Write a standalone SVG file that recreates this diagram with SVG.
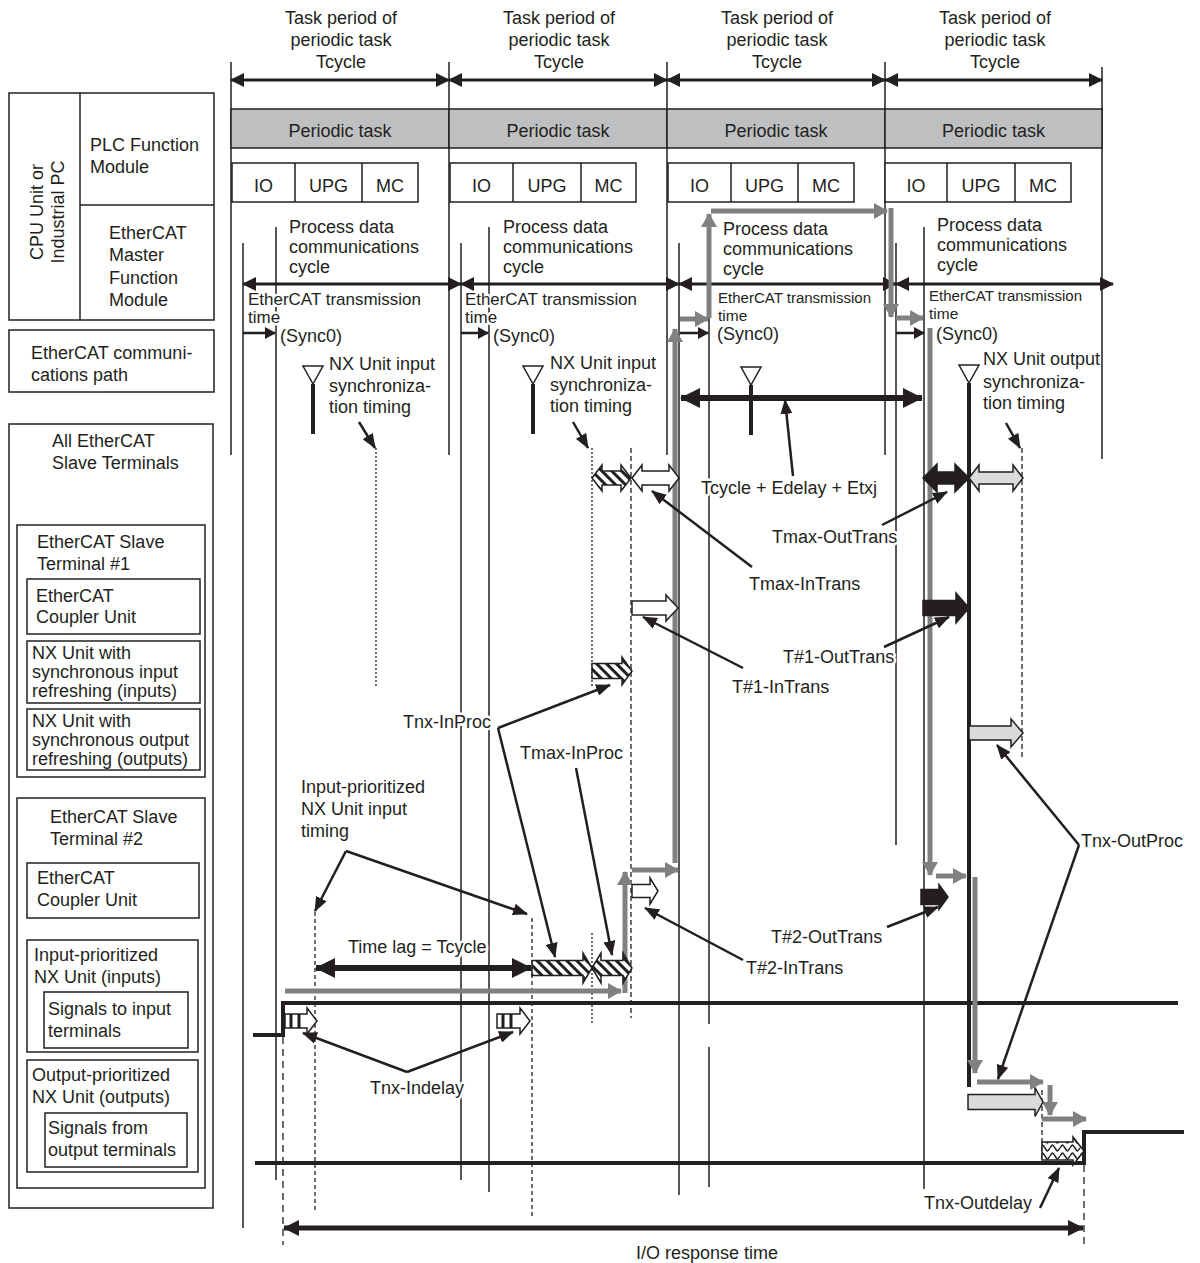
<svg xmlns="http://www.w3.org/2000/svg" width="1200" height="1263" viewBox="0 0 1200 1263">
<defs>
<style>
text{font-family:"Liberation Sans",Arial,sans-serif;font-size:18px;fill:#231f20}
.h{paint-order:stroke;stroke:#fff;stroke-width:5px;stroke-linejoin:round}
.c{text-anchor:middle}
.box{fill:#fff;stroke:#231f20;stroke-width:1.5}
.bar{fill:#bebfc1;stroke:#231f20;stroke-width:1.5}
.ln{fill:none;stroke:#231f20;stroke-width:1.5}
.thk{fill:none;stroke:#231f20;stroke-width:4}
.dot{fill:none;stroke:#231f20;stroke-width:1.3;stroke-dasharray:2 2}
.dash{fill:none;stroke:#231f20;stroke-width:1.3;stroke-dasharray:5 3}
.arr{fill:none;stroke:#231f20;stroke-width:3;marker-start:url(#ah);marker-end:url(#ah)}
.sa{fill:none;stroke:#231f20;stroke-width:2.5;marker-end:url(#ahs)}
.ga{fill:none;stroke:#808080;stroke-width:5;marker-end:url(#ahg)}
.ptr{fill:none;stroke:#231f20;stroke-width:2.5;marker-end:url(#ahp)}
.big{fill:none;stroke:#231f20;stroke-width:6;marker-start:url(#ahb);marker-end:url(#ahb)}
.io{fill:none;stroke:#231f20;stroke-width:5;marker-start:url(#ahio);marker-end:url(#ahio)}
.sig{fill:none;stroke:#231f20;stroke-width:4}
.wa{fill:#fff;stroke:#231f20;stroke-width:1.5}
.ha{fill:url(#hatch);stroke:#231f20;stroke-width:1.5}
.ba{fill:#231f20;stroke:#231f20;stroke-width:1.5}
.la{fill:#d9dadb;stroke:#231f20;stroke-width:1.5}
.wv{fill:url(#wave);stroke:#231f20;stroke-width:1.5}
.tri{fill:#fff;stroke:#231f20;stroke-width:1.5}
.et{font-size:17px}
.et2{font-size:15.5px}
</style>
<marker id="ah" viewBox="0 0 14 14" refX="13" refY="7" markerWidth="14" markerHeight="14" markerUnits="userSpaceOnUse" orient="auto-start-reverse"><path d="M0,0 L14,7 L0,14 z" fill="#231f20"/></marker>
<marker id="ahs" viewBox="0 0 11 12" refX="10" refY="6" markerWidth="11" markerHeight="12" markerUnits="userSpaceOnUse" orient="auto"><path d="M0,0 L11,6 L0,12 z" fill="#231f20"/></marker>
<marker id="ahp" viewBox="0 0 15 12" refX="14" refY="6" markerWidth="15" markerHeight="12" markerUnits="userSpaceOnUse" orient="auto"><path d="M0,0 L15,6 L0,12 z" fill="#231f20"/></marker>
<marker id="ahb" viewBox="0 0 20 20" refX="19" refY="10" markerWidth="20" markerHeight="20" markerUnits="userSpaceOnUse" orient="auto-start-reverse"><path d="M0,0 L20,10 L0,20 z" fill="#231f20"/></marker>
<marker id="ahio" viewBox="0 0 16 16" refX="15" refY="8" markerWidth="16" markerHeight="16" markerUnits="userSpaceOnUse" orient="auto-start-reverse"><path d="M0,0 L16,8 L0,16 z" fill="#231f20"/></marker>
<marker id="ahg" viewBox="0 0 14 16" refX="13" refY="8" markerWidth="14" markerHeight="16" markerUnits="userSpaceOnUse" orient="auto"><path d="M0,0 L14,8 L0,16 z" fill="#808080"/></marker>
<pattern id="hatch" width="7" height="7" patternUnits="userSpaceOnUse" patternTransform="rotate(-45)"><rect width="7" height="7" fill="#fff"/><rect width="3" height="7" fill="#231f20"/></pattern>
<pattern id="wave" width="10" height="8" patternUnits="userSpaceOnUse"><rect width="10" height="8" fill="#fff"/><path d="M0,4 C2.5,0 2.5,0 5,4 S7.5,8 10,4" fill="none" stroke="#231f20" stroke-width="1.5"/></pattern>
</defs>
<rect width="1200" height="1263" fill="#fff"/>

<!-- Left panel -->
<g id="cpu-unit">
<rect class="box" x="9" y="93" width="205" height="227"/>
<path class="ln" d="M80,93 V320 M80,205 H214"/>
<text class="c" transform="translate(43,212) rotate(-90)">CPU Unit or</text>
<text class="c" transform="translate(64,212) rotate(-90)">Industrial PC</text>
</g>
<g id="plc-function-module"><text x="90" y="151">PLC Function</text><text x="90" y="173">Module</text></g>
<g id="ethercat-master-function-module"><text x="109" y="239">EtherCAT</text><text x="109" y="261">Master</text><text x="109" y="284">Function</text><text x="109" y="306">Module</text></g>
<g id="ethercat-communications-path">
<rect class="box" x="9" y="330" width="205" height="62"/>
<text x="31" y="359">EtherCAT communi-</text><text x="31" y="381">cations path</text>
</g>
<g id="all-ethercat-slave-terminals">
<rect class="box" x="9" y="424" width="204" height="784"/>
<text x="52" y="447">All EtherCAT</text><text x="52" y="469">Slave Terminals</text>
</g>
<g id="slave-terminal-1">
<rect class="box" x="17" y="525" width="188" height="252"/>
<text x="37" y="548">EtherCAT Slave</text><text x="37" y="570">Terminal #1</text>
</g>
<g id="coupler-unit-1"><rect class="box" x="27" y="579" width="173" height="55"/><text x="36" y="602">EtherCAT</text><text x="36" y="623">Coupler Unit</text></g>
<g id="nx-sync-input"><rect class="box" x="27" y="641" width="173" height="62"/><text x="32" y="659">NX Unit with</text><text x="32" y="678">synchronous input</text><text x="32" y="697">refreshing (inputs)</text></g>
<g id="nx-sync-output"><rect class="box" x="27" y="709" width="173" height="61"/><text x="32" y="727">NX Unit with</text><text x="32" y="746">synchronous output</text><text x="32" y="765">refreshing (outputs)</text></g>
<g id="slave-terminal-2">
<rect class="box" x="17" y="798" width="188" height="390"/>
<text x="50" y="823">EtherCAT Slave</text><text x="50" y="845">Terminal #2</text>
</g>
<g id="coupler-unit-2"><rect class="box" x="27" y="863" width="172" height="55"/><text x="37" y="884">EtherCAT</text><text x="37" y="906">Coupler Unit</text></g>
<g id="input-prioritized-unit"><rect class="box" x="27" y="940" width="171" height="112"/><text x="34" y="961">Input-prioritized</text><text x="34" y="983">NX Unit (inputs)</text></g>
<g id="signals-to-input"><rect class="box" x="44" y="992" width="144" height="56"/><text x="48" y="1015">Signals to input</text><text x="48" y="1037">terminals</text></g>
<g id="output-prioritized-unit"><rect class="box" x="27" y="1060" width="171" height="112"/><text x="32" y="1081">Output-prioritized</text><text x="32" y="1103">NX Unit (outputs)</text></g>
<g id="signals-from-output"><rect class="box" x="45" y="1113" width="142" height="54"/><text x="48" y="1134">Signals from</text><text x="48" y="1156">output terminals</text></g>

<!-- Timeline grid lines -->
<g id="grid">
<path class="ln" d="M231,62 V455 M449,62 V455 M667,62 V455 M885,62 V455 M1102,67 V459"/>
<path class="ln" d="M243,243 V1228 M461,243 V1180 M679,243 V1195 M896,243 V845"/>
<path class="ln" d="M276,227 V1180 M489,227 V1192 M709,227 V1024 M709,1047 V1187 M924,227 V1189"/>
<path class="dot" d="M376,448 V688 M592,448 V688 M592,933 V1025"/>
<path class="dash" d="M631,448 V1018 M1022,448 V760 M1042,1090 V1160"/>
<path class="dash" style="stroke-dasharray:4 3" d="M315,912 V1212 M532,918 V1218"/>
<path class="dash" style="stroke-dasharray:7 5" d="M283,1037 V1245 M1084,1165 V1247"/>
</g>

<!-- Periods -->
<g id="period-1">
<text class="c" x="341" y="24">Task period of</text><text class="c" x="341" y="46">periodic task</text><text class="c" x="341" y="68">Tcycle</text>
<rect class="bar" x="231" y="109" width="218" height="39"/><text class="c" x="340" y="137">Periodic task</text>
<rect class="box" x="232" y="163" width="186" height="39"/><path class="ln" d="M295,163 V202 M362,163 V202"/>
<text class="c" x="263.5" y="192">IO</text><text class="c" x="328.5" y="192">UPG</text><text class="c" x="390" y="192">MC</text>
<text x="289" y="233">Process data</text><text x="289" y="253">communications</text><text x="289" y="273">cycle</text>
<text class="h et" x="248" y="305" textLength="173" lengthAdjust="spacingAndGlyphs">EtherCAT transmission</text><text class="h et" x="248" y="323">time</text>
<text x="280" y="342">(Sync0)</text>
<text x="329" y="370">NX Unit input</text><text x="329" y="392">synchroniza-</text><text x="329" y="413">tion timing</text>
</g>
<g id="period-2">
<text class="c" x="559" y="24">Task period of</text><text class="c" x="559" y="46">periodic task</text><text class="c" x="559" y="68">Tcycle</text>
<rect class="bar" x="449" y="109" width="218" height="39"/><text class="c" x="558" y="137">Periodic task</text>
<rect class="box" x="450" y="163" width="186" height="39"/><path class="ln" d="M513,163 V202 M581,163 V202"/>
<text class="c" x="481.5" y="192">IO</text><text class="c" x="547" y="192">UPG</text><text class="c" x="608.5" y="192">MC</text>
<text x="503" y="233">Process data</text><text x="503" y="253">communications</text><text x="503" y="273">cycle</text>
<text class="h et" x="465" y="305" textLength="172" lengthAdjust="spacingAndGlyphs">EtherCAT transmission</text><text class="h et" x="465" y="323">time</text>
<text x="493" y="342">(Sync0)</text>
<text x="550" y="369">NX Unit input</text><text x="550" y="391">synchroniza-</text><text x="550" y="412">tion timing</text>
</g>
<g id="period-3">
<text class="c" x="777" y="24">Task period of</text><text class="c" x="777" y="46">periodic task</text><text class="c" x="777" y="68">Tcycle</text>
<rect class="bar" x="667" y="109" width="218" height="39"/><text class="c" x="776" y="137">Periodic task</text>
<rect class="box" x="668" y="163" width="186" height="39"/><path class="ln" d="M731,163 V202 M798,163 V202"/>
<text class="c" x="699.5" y="192">IO</text><text class="c" x="764.5" y="192">UPG</text><text class="c" x="826" y="192">MC</text>
<text x="723" y="235">Process data</text><text x="723" y="255">communications</text><text x="723" y="275">cycle</text>
<text class="et2" x="718" y="303" textLength="153" lengthAdjust="spacingAndGlyphs">EtherCAT transmission</text><text class="et2" x="718" y="321">time</text>
<text x="717" y="340">(Sync0)</text>
</g>
<g id="period-4">
<text class="c" x="995" y="24">Task period of</text><text class="c" x="995" y="46">periodic task</text><text class="c" x="995" y="68">Tcycle</text>
<rect class="bar" x="885" y="109" width="217" height="39"/><text class="c" x="993.5" y="137">Periodic task</text>
<rect class="box" x="885" y="163" width="186" height="39"/><path class="ln" d="M947,163 V202 M1015,163 V202"/>
<text class="c" x="916" y="192">IO</text><text class="c" x="981" y="192">UPG</text><text class="c" x="1043" y="192">MC</text>
<text x="937" y="231">Process data</text><text x="937" y="251">communications</text><text x="937" y="271">cycle</text>
<text class="et2" x="929" y="301" textLength="153" lengthAdjust="spacingAndGlyphs">EtherCAT transmission</text><text class="et2" x="929" y="319">time</text>
<text x="936" y="340">(Sync0)</text>
<text x="983" y="365">NX Unit output</text><text x="983" y="388">synchroniza-</text><text x="983" y="409">tion timing</text>
</g>

<!-- Sync timing markers -->
<g id="sync-markers">
<polygon class="tri" points="303,366 323,366 313,384"/><path class="thk" d="M313,384 V434"/>
<polygon class="tri" points="523,366 543,366 533,384"/><path class="thk" d="M533,384 V434"/>
<polygon class="tri" points="741,367 761,367 751,385"/><path class="thk" d="M751,385 V435"/>
<polygon class="tri" points="959,365 979,365 969,383"/><path class="thk" d="M969,383 V1087"/>
</g>

<!-- Signals -->
<g id="signals">
<path class="sig" d="M253,1035 H283 V1003 H1178"/>
<path class="sig" d="M255,1163 H1084 V1132 H1184"/>
</g>

<g id="connectors">
<!-- period arrows -->
<path class="arr" d="M231,80 H449"/>
<path class="arr" d="M449,80 H667"/>
<path class="arr" d="M667,80 H885"/>
<path class="arr" d="M885,80 H1102"/>
<path class="arr" d="M243,284 H461"/>
<path class="arr" d="M461,284 H679"/>
<path class="arr" d="M679,284 H896"/>
<path class="arr" d="M896,284 H1113"/>
<path class="sa" d="M243,333 H275"/>
<path class="sa" d="M461,333 H488"/>
<path class="sa" d="M680,333 H708"/>
<path class="sa" d="M896,333 H924"/>
<!-- gray data path -->
<path class="ga" d="M285,991 H621"/>
<path class="ga" d="M625,993 V872"/>
<path class="ga" d="M632,870 H678"/>
<path class="ga" d="M675,863 V329"/>
<path class="ga" d="M680,319 H708"/>
<path class="ga" d="M709,318 V214"/>
<path class="ga" d="M711,211 H887"/>
<path class="ga" d="M891,208 V317"/>
<path class="ga" d="M896,318 H923"/>
<path class="ga" d="M930,328 V875"/>
<path class="ga" d="M936,876 H966"/>
<path class="ga" d="M975,877 V1073"/>
<path class="ga" d="M977,1082 H1043"/>
<path class="ga" d="M1050,1085 V1115"/>
<path class="ga" d="M1042,1119 H1086"/>
<!-- big arrows -->
<path class="big" d="M681,398 H922"/>
<path class="big" d="M316,968 H531"/>
<path class="io" d="M284,1228 H1083"/>
<!-- block arrows -->
<polygon class="ha" points="592,478 602,465 602,471 621,471 621,465 631,478 621,491 621,485 602,485 602,491"/>
<polygon class="wa" points="632,478 642,465 642,471 669,471 669,465 679,478 669,491 669,485 642,485 642,491"/>
<polygon class="wa" points="632,601 666,601 666,595 678,608 666,621 666,615 632,615"/>
<polygon class="ha" points="592,663.5 622,663.5 622,657 632,671 622,685 622,678.5 592,678.5"/>
<polygon class="ba" points="923,478 937,464 937,472 955,472 955,464 969,478 955,492 955,484 937,484 937,492"/>
<polygon class="la" points="969,478 979,465 979,472 1013,472 1013,465 1023,478 1013,491 1013,484 979,484 979,491"/>
<polygon class="ba" points="923,600.5 956,600.5 956,593 969,608 956,623 956,615.5 923,615.5"/>
<polygon class="la" points="969,726 1011,726 1011,719 1023,733 1011,747 1011,740 969,740"/>
<polygon class="wa" points="632,884.5 650,884.5 650,878 658,891 650,904 650,897.5 632,897.5"/>
<polygon class="ba" points="921,889.5 939,889.5 939,884.5 948,897 939,909.5 939,904.5 921,904.5"/>
<polygon class="ha" points="532,960.5 583,960.5 583,953 592,968 583,983 583,975.5 532,975.5"/>
<polygon class="ha" points="592,968 601,953 601,960.5 623,960.5 623,953 632,968 623,983 623,975.5 601,975.5 601,983"/>
<polygon class="la" points="968,1094.5 1035,1094.5 1035,1087.5 1043,1102 1035,1116.5 1035,1109.5 968,1109.5"/>
<polygon class="wv" points="1042,1142 1073,1142 1073,1137 1084,1151 1073,1165 1073,1160 1042,1160"/>
<polygon class="wa" points="285,1014 307,1014 307,1008 317,1021 307,1034 307,1028 285,1028"/>
<path d="M291,1014 V1028 M299,1014 V1028" stroke="#231f20" stroke-width="3"/>
<polygon class="wa" points="497,1014 520,1014 520,1008 530,1021 520,1034 520,1028 497,1028"/>
<path d="M503,1014 V1028 M511,1014 V1028" stroke="#231f20" stroke-width="3"/>
<!-- pointers -->
<path class="ptr" d="M359,422 L375,448"/>
<path class="ptr" d="M573,422 L588,448"/>
<path class="ptr" d="M1006,423 L1020,448"/>
<path class="ptr" d="M793,476 L785,400"/>
<path class="ptr" d="M752,567 L652,491"/>
<path class="ptr" d="M743,668 L643,617"/>
<path class="ptr" d="M882,525 L947,492"/>
<path class="ptr" d="M884,647 L949,617"/>
<path class="ptr" d="M1079,845 L997,745"/>
<path class="ptr" d="M1079,845 L998,1079"/>
<path class="ptr" d="M887,927 L938,907"/>
<path class="ptr" d="M743,960 L645,908"/>
<path class="ptr" d="M1040,1208 L1059,1168"/>
<path class="ptr" d="M498,728 L610,685"/>
<path class="ptr" d="M498,728 L555,957"/>
<path class="ptr" d="M576,768 L612,955"/>
<path class="ptr" d="M346,851 L315,911"/>
<path class="ptr" d="M346,851 L527,914"/>
<path class="ptr" d="M407,1072 L303,1033"/>
<path class="ptr" d="M407,1072 L513,1032"/>
</g>

<g id="labels">
<text class="h" x="701" y="494">Tcycle + Edelay + Etxj</text>
<text class="h" x="772" y="543">Tmax-OutTrans</text>
<text class="h" x="749" y="590">Tmax-InTrans</text>
<text class="h" x="783" y="663">T#1-OutTrans</text>
<text class="h" x="732" y="693">T#1-InTrans</text>
<text class="h" x="403" y="728">Tnx-InProc</text>
<text class="h" x="520" y="759">Tmax-InProc</text>
<text class="h" x="301" y="793">Input-prioritized</text>
<text class="h" x="301" y="815">NX Unit input</text>
<text class="h" x="301" y="837">timing</text>
<text class="h" x="1081" y="847">Tnx-OutProc</text>
<text class="h" x="771" y="943">T#2-OutTrans</text>
<text class="h" x="746" y="974">T#2-InTrans</text>
<text class="h" x="348" y="953">Time lag = Tcycle</text>
<text class="h" x="370" y="1094">Tnx-Indelay</text>
<text class="h" x="924" y="1209">Tnx-Outdelay</text>
<text class="h" x="636" y="1259">I/O response time</text>
</g>
</svg>
